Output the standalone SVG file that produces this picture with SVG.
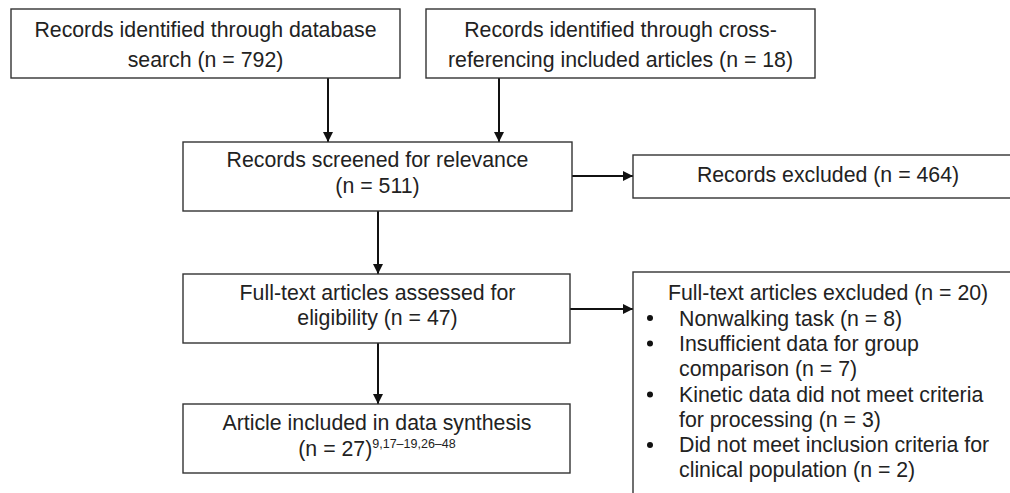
<svg xmlns="http://www.w3.org/2000/svg" width="1010" height="493" viewBox="0 0 1010 493">
<defs>
<style>
.box{fill:#fff;stroke:#333;stroke-width:1.4}
.t{font-family:"Liberation Sans",Arial,sans-serif;font-size:21.3px;fill:#222}
.c{text-anchor:middle}
.sup{font-size:12.5px}
.ln{stroke:#111;stroke-width:2;fill:none}
.dot{fill:#111}
</style>
<marker id="ah" viewBox="0 0 10 10" refX="10" refY="5" markerWidth="10" markerHeight="10" markerUnits="userSpaceOnUse" orient="auto">
<path d="M0,0 L10,5 L0,10 z" fill="#111"/>
</marker>
</defs>
<rect width="1010" height="493" fill="#fff"/>
<g id="connectors">
<line class="ln" x1="328" y1="78" x2="328" y2="142" marker-end="url(#ah)"/>
<line class="ln" x1="499" y1="78" x2="499" y2="142" marker-end="url(#ah)"/>
<line class="ln" x1="378" y1="211" x2="378" y2="274" marker-end="url(#ah)"/>
<line class="ln" x1="378" y1="343" x2="378" y2="404" marker-end="url(#ah)"/>
<line class="ln" x1="572" y1="176" x2="633" y2="176" marker-end="url(#ah)"/>
<line class="ln" x1="570" y1="309" x2="633" y2="309" marker-end="url(#ah)"/>
</g>
<g id="n1">
<rect class="box" x="11" y="9" width="389" height="69"/>
<text class="t c" x="205.5" y="37">Records identified through database</text>
<text class="t c" x="205.5" y="67">search (n = 792)</text>
</g>
<g id="n2">
<rect class="box" x="426" y="9" width="389" height="69"/>
<text class="t c" x="620.5" y="37">Records identified through cross-</text>
<text class="t c" x="620.5" y="67">referencing included articles (n = 18)</text>
</g>
<g id="n3">
<rect class="box" x="183" y="142" width="389" height="69"/>
<text class="t c" x="377.5" y="167">Records screened for relevance</text>
<text class="t c" x="377.5" y="193">(n = 511)</text>
</g>
<g id="n4">
<rect class="box" x="633" y="155" width="400" height="43"/>
<text class="t c" x="828" y="182">Records excluded (n = 464)</text>
</g>
<g id="n5">
<rect class="box" x="183" y="274" width="387" height="69"/>
<text class="t c" x="377.5" y="300">Full-text articles assessed for</text>
<text class="t c" x="377.5" y="325">eligibility (n = 47)</text>
</g>
<g id="n6">
<rect class="box" x="183" y="404" width="387" height="69"/>
<text class="t c" x="377" y="430">Article included in data synthesis</text>
<text class="t c" x="377" y="456">(n = 27)<tspan class="sup" dy="-8">9,17–19,26–48</tspan></text>
</g>
<g id="n7">
<rect class="box" x="633" y="272" width="400" height="240"/>
<text class="t" x="668" y="300">Full-text articles excluded (n = 20)</text>
<circle class="dot" cx="650" cy="318" r="3"/>
<text class="t" x="679" y="325.5">Nonwalking task (n = 8)</text>
<circle class="dot" cx="650" cy="343.5" r="3"/>
<text class="t" x="679" y="351">Insufficient data for group</text>
<text class="t" x="679" y="376">comparison (n = 7)</text>
<circle class="dot" cx="650" cy="394.5" r="3"/>
<text class="t" x="679" y="401.5">Kinetic data did not meet criteria</text>
<text class="t" x="679" y="426.5">for processing (n = 3)</text>
<circle class="dot" cx="650" cy="445" r="3"/>
<text class="t" x="679" y="452">Did not meet inclusion criteria for</text>
<text class="t" x="679" y="477">clinical population (n = 2)</text>
</g>
</svg>
